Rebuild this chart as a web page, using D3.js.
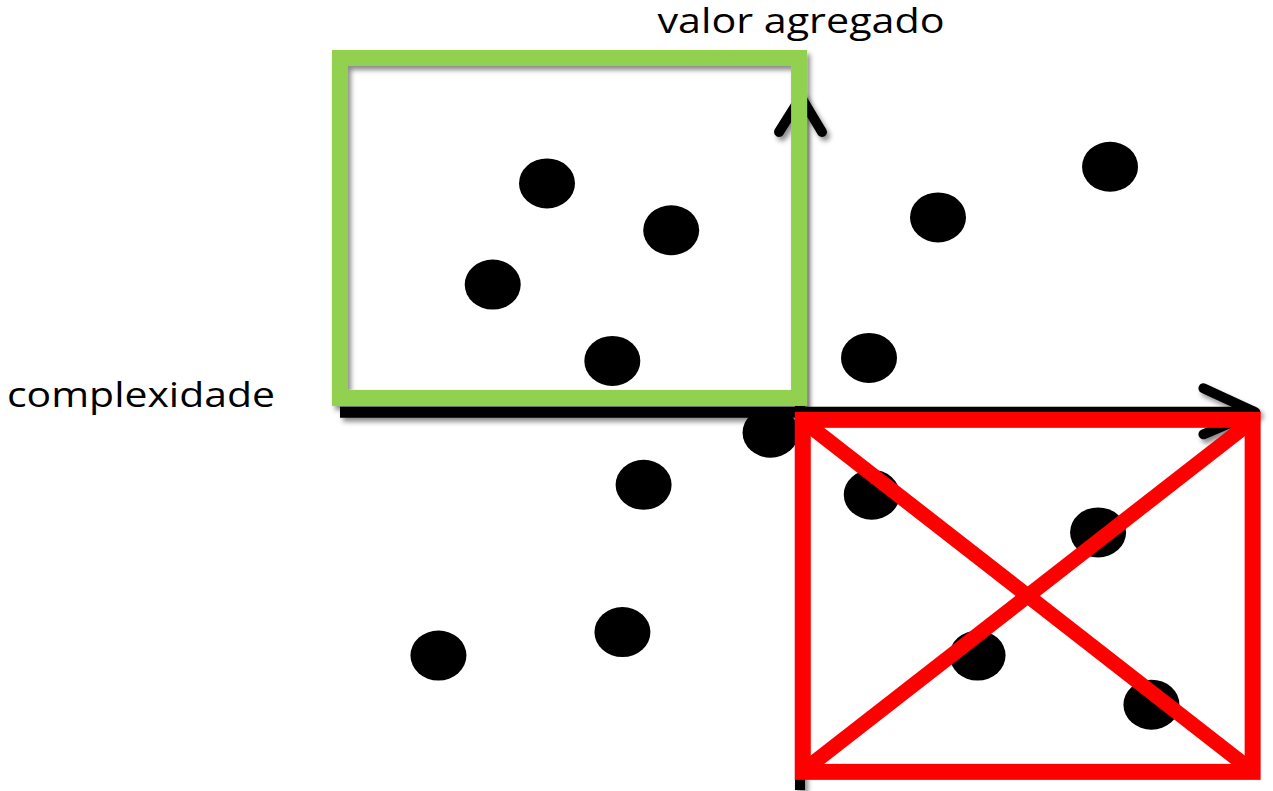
<!DOCTYPE html>
<html>
<head>
<meta charset="utf-8">
<script src="https://cdn.jsdelivr.net/npm/d3@7"></script>
<style>
  html, body { margin: 0; padding: 0; background: #fff; }
  svg { display: block; }
</style>
</head>
<body>
<svg id="chart" width="1273" height="791"></svg>
<script>
// ---- data (nominal units: complexity on x, added value on y) ----
const pointX = [-2.75, -1.40, -3.34, -2.04, -0.32, 0.78, 3.24, 1.93, 3.82, 0.75, 3.37, 1.50, -1.70, -1.93, -3.93];
const pointY = [ 3.03,  2.41,  1.69,  0.68, -0.27, -1.09, -1.59, -3.22, -3.87, 0.72, 3.25, 2.58, -0.96, -2.91, -3.22];
const xDomain = [-5, 5];
const yDomain = [-5, 4.2];
const xAxisLabel = "complexidade";
const yAxisLabel = "valor agregado";
// highlighted zone (top-left) and rejected zone (bottom-right), in data units
const goodZoneX = [-5, -0.01];
const goodZoneY = [0.19, 4.69];
const badZoneX = [0.03, 4.92];
const badZoneY = [-4.76, -0.10];

// ---- drawing ----
const svg = d3.select("#chart");
const x = d3.scaleLinear().domain(xDomain).range([340, 1260]);
const y = d3.scaleLinear().domain(yDomain).range([790, 95]);

const defs = svg.append("defs");
const f = defs.append("filter").attr("id", "shadow")
  .attr("x", "-10%").attr("y", "-10%").attr("width", "130%").attr("height", "130%");
f.append("feDropShadow").attr("dx", 3).attr("dy", 4).attr("stdDeviation", 2.5)
  .attr("flood-color", "#000").attr("flood-opacity", 0.45);

// axes
const axes = svg.append("g").attr("filter", "url(#shadow)")
  .attr("stroke", "#000").attr("fill", "none");
const x0 = x(0), y0 = y(0);
axes.append("line").attr("x1", x(xDomain[0])).attr("x2", x(4.95))
  .attr("y1", y0).attr("y2", y0).attr("stroke-width", 11);
axes.append("line").attr("x1", x0).attr("x2", x0)
  .attr("y1", y(yDomain[0])).attr("y2", y(4.2) + 4).attr("stroke-width", 10);
// arrow heads (open chevrons)
const tipX = x(4.95);
axes.append("path")
  .attr("d", `M${tipX - 52},${y0 - 24} L${tipX},${y0} L${tipX - 52},${y0 + 22}`)
  .attr("stroke-width", 10).attr("stroke-linecap", "round").attr("stroke-linejoin", "round");
const tipY = y(4.2) + 2;
axes.append("path")
  .attr("d", `M${x0 - 21},${tipY + 35} L${x0 + 1},${tipY} L${x0 + 22},${tipY + 35}`)
  .attr("stroke-width", 10).attr("stroke-linecap", "round").attr("stroke-linejoin", "round");

// points
svg.append("g").selectAll("ellipse")
  .data(d3.range(pointX.length))
  .join("ellipse")
  .attr("cx", i => x(pointX[i]))
  .attr("cy", i => y(pointY[i]))
  .attr("rx", 28).attr("ry", 25)
  .attr("fill", "#000");

// good zone (green)
svg.append("rect")
  .attr("x", x(goodZoneX[0])).attr("y", y(goodZoneY[1]))
  .attr("width", x(goodZoneX[1]) - x(goodZoneX[0]))
  .attr("height", y(goodZoneY[0]) - y(goodZoneY[1]))
  .attr("fill", "none").attr("stroke", "#92D050").attr("stroke-width", 16)
  .attr("filter", "url(#shadow)");

// bad zone (red, crossed)
const bx0 = x(badZoneX[0]), bx1 = x(badZoneX[1]);
const by0 = y(badZoneY[1]), by1 = y(badZoneY[0]);
const bad = svg.append("g").attr("stroke", "#FF0000").attr("fill", "none");
bad.append("rect").attr("x", bx0).attr("y", by0)
  .attr("width", bx1 - bx0).attr("height", by1 - by0).attr("stroke-width", 16);
bad.append("line").attr("x1", bx0 + 8).attr("y1", by0 + 7).attr("x2", bx1 - 8).attr("y2", by1 - 7)
  .attr("stroke-width", 15);
bad.append("line").attr("x1", bx0 + 8).attr("y1", by1 - 7).attr("x2", bx1 - 8).attr("y2", by0 + 7)
  .attr("stroke-width", 15);

// labels
svg.append("text").attr("x", x0 + 1).attr("y", 33)
  .attr("text-anchor", "middle")
  .attr("font-family", "'Open Sans', sans-serif").attr("font-size", 35)
  .attr("fill", "#000")
  .attr("textLength", 287).attr("lengthAdjust", "spacingAndGlyphs")
  .text(yAxisLabel);
svg.append("text").attr("x", 7).attr("y", 407)
  .attr("font-family", "'Open Sans', sans-serif").attr("font-size", 35)
  .attr("fill", "#000")
  .attr("textLength", 268).attr("lengthAdjust", "spacingAndGlyphs")
  .text(xAxisLabel);
</script>
</body>
</html>
